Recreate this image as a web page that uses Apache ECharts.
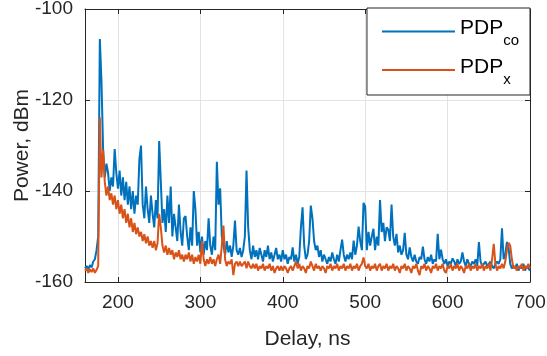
<!DOCTYPE html>
<html>
<head>
<meta charset="utf-8">
<script src="https://cdn.jsdelivr.net/npm/echarts@6/dist/echarts.min.js"></script>
<style>
html,body{margin:0;padding:0;background:#fff;}
#chart{width:547px;height:356px;}
</style>
</head>
<body>
<div id="chart"></div>
<script>
// Sampling grid of the delay axis (ns)
const delayStart = 160;
const delayStep = 2;
// Tick labels
const xTicks = [200, 300, 400, 500, 600, 700];
const yTicks = [-160, -140, -120, -100];
// Series names
const seriesNames = ['co', 'x'];
// PDP co-polar, dBm (one value per 2 ns from 160 ns to 700 ns)
const pdpCo = [
 -157,-156.5,-157.2,-156.3,-156.8,-155.5,-155,-153,-150,-106.6,
 -116,-131,-137,-134,-136,-140,-137,-139,-130.8,-136,
 -139.5,-135.5,-141,-137,-142,-138,-143,-139,-144,-140,
 -145,-141,-143,-133,-130,-143,-146,-139,-144,-147,
 -141,-145,-148,-142,-146,-129,-138,-147,-144,-149,
 -141,-147,-139,-150,-145,-148,-151,-143,-149,-152,
 -146,-145.5,-150,-153,-148,-152,-140,-144,-152,-149,
 -153.5,-150,-154,-151,-153,-146,-152,-154,-150,-153,
 -133.6,-143,-139.4,-150,-152,-154,-151,-153.5,-152,-154.5,
 -152,-146.5,-153,-154,-152.5,-154.5,-153,-150,-135.5,-148,
 -153,-155,-152,-154.5,-153,-155,-152.5,-154,-155.5,-153,
 -154.5,-152,-155,-153.5,-155.5,-154,-152.5,-155,-154,-155.5,
 -153,-155,-154,-156,-154.5,-155,-152.4,-155.5,-154,-156,
 -154.5,-148,-143.6,-152,-155,-154,-151,-143.2,-146,-151,
 -153,-152,-154.5,-153,-155.5,-154,-155,-156,-154.5,-155.5,
 -153.5,-155,-156,-154,-155.5,-153,-150.7,-154,-155.5,-154,
 -155,-153.5,-155,-150.9,-154,-152,-147.8,-151,-153,-142.6,
 -143.4,-153,-149,-152,-150,-148.3,-153,-150,-152,-142,
 -149,-147,-151,-148,-148.5,-151,-143,-150,-152,-149.4,
 -153.5,-152,-154,-153,-149.2,-154,-155,-152.4,-154.5,-155.5,
 -154,-155.5,-156,-154.5,-155,-152.2,-155,-156,-154.5,-155.5,
 -154,-156,-155,-155.5,-149.4,-155,-152.9,-155,-156,-155,
 -156.5,-155.5,-156,-154.8,-155.5,-156.5,-155,-156,-155.5,-153.5,
 -155.5,-156.5,-155,-156,-156.5,-155.5,-156,-155,-156.5,-151.2,
 -155.5,-156.5,-156,-155.5,-156.5,-156,-155.5,-156.5,-157,-156,
 -155.5,-156,-155,-148.2,-155,-154,-151.2,-152.5,-156,-157,
 -156.5,-157,-156,-157.5,-156.5,-157,-156,-157.5,-156.5,-157,
 -157.5
];
// PDP cross-polar, dBm
const pdpX = [
 -157.5,-157,-158,-157.2,-157.8,-157,-158,-157.3,-156.5,-123.8,
 -137,-131,-138,-141,-139,-142,-140.5,-143,-141,-144,
 -142,-145,-143,-146,-144,-147,-145,-148,-146,-149,
 -147,-149.5,-148,-150,-149,-151,-149.5,-151.5,-150,-152,
 -151,-152.5,-151,-153,-151.5,-145,-148,-152,-153.5,-152,
 -154,-152.5,-154,-153,-155,-153.5,-154.5,-153,-155,-154,
 -155.5,-154,-155,-153.5,-155.5,-154,-156,-154.5,-155.5,-154,
 -156,-151,-155,-156.5,-155,-156,-154.5,-156,-155,-156.5,
 -155,-154,-156,-152,-147.6,-155,-156.5,-155.5,-156,-155,
 -158.5,-156,-155.5,-156.5,-155.5,-156.5,-156,-155.5,-157,-155.5,
 -156.5,-157,-156,-157,-156,-157.5,-156.5,-157,-156,-157.5,
 -156.5,-157,-156,-157.5,-156.5,-158,-157,-156.5,-157.5,-156.5,
 -157.5,-156.5,-157,-158,-157,-156.5,-157.5,-156.5,-155.5,-157,
 -156,-157.5,-156.5,-157,-158,-156.5,-157,-155.5,-156.5,-157.5,
 -156,-157,-156.5,-157.5,-156.5,-157,-158,-156.5,-157,-156,
 -157.5,-156.5,-157,-156,-157.5,-156.5,-157,-156,-157.5,-156.5,
 -157,-156,-157.5,-156.5,-157,-156,-157.5,-156.5,-156,-154.6,
 -156.5,-157,-156,-157.5,-156.5,-157,-156,-157.5,-156.5,-156,
 -157.5,-156.5,-157,-156,-157.5,-156.5,-157,-156,-157.5,-156.5,
 -157,-158,-156.5,-157,-156,-157.5,-156.5,-157,-158,-156.5,
 -157,-156,-157.5,-158.5,-156.5,-157,-156,-157.5,-156.5,-157,
 -158,-156.5,-157,-156,-157.5,-156.5,-157,-156,-157.5,-158,
 -156.5,-157,-156,-157.5,-156.5,-157,-156,-157.5,-156.5,-157,
 -158,-156.5,-157,-156,-157.5,-156.5,-157,-156,-157.5,-156.5,
 -157,-156,-157.5,-156.5,-157,-156,-157.5,-155,-151.6,-156,
 -157.5,-156.5,-157,-156,-157,-155.5,-153,-151.4,-152,-155,
 -157,-156.5,-157.5,-156.5,-157,-156,-157.5,-156.5,-157,-156,
 -157
];

const toPairs = arr => arr.map((v, i) => [delayStart + i * delayStep, v]);

const axisColor = '#262626';
const gridColor = '#e3e3e3';
const fontFam = 'Liberation Sans, Arial, sans-serif';

const chart = echarts.init(document.getElementById('chart'), null, {renderer: 'canvas'});
const xMin = delayStart, xMax = delayStart + (pdpCo.length - 1) * delayStep;
const yMin = yTicks[0], yMax = yTicks[yTicks.length - 1];

chart.setOption({
  animation: false,
  backgroundColor: '#fff',
  grid: {left: 85, right: 17, top: 9, bottom: 74, containLabel: false, outerBoundsMode: 'none'},
  xAxis: [{
    type: 'value', min: xMin, max: xMax, minInterval: 100, maxInterval: 100,
    name: 'Delay, ns', nameLocation: 'middle', nameGap: 47,
    nameTextStyle: {color: axisColor, fontSize: 21, fontFamily: fontFam},
    axisLine: {show: true, lineStyle: {color: axisColor, width: 1}},
    axisTick: {show: true, inside: true, length: 5, lineStyle: {color: axisColor}},
    axisLabel: {color: axisColor, fontSize: 19, fontFamily: fontFam, margin: 11, showMinLabel: false,
      formatter: v => xTicks.indexOf(v) >= 0 ? String(v) : ''},
    splitLine: {show: true, lineStyle: {color: gridColor, width: 1}}
  }, {
    type: 'value', position: 'top', min: xMin, max: xMax, minInterval: 100, maxInterval: 100,
    axisLine: {show: true, onZero: false, lineStyle: {color: axisColor, width: 1}},
    axisTick: {show: true, inside: true, length: 5, lineStyle: {color: axisColor}},
    axisLabel: {show: false}, splitLine: {show: false}
  }],
  yAxis: [{
    type: 'value', min: yMin, max: yMax, interval: 20,
    name: 'Power, dBm', nameLocation: 'middle', nameGap: 52, nameMoveOverlap: false,
    nameTextStyle: {color: axisColor, fontSize: 21, fontFamily: fontFam},
    axisLine: {show: true, lineStyle: {color: axisColor, width: 1}},
    axisTick: {show: true, inside: true, length: 5, lineStyle: {color: axisColor}},
    axisLabel: {color: axisColor, fontSize: 19, fontFamily: fontFam, margin: 12},
    splitLine: {show: true, lineStyle: {color: gridColor, width: 1}}
  }, {
    type: 'value', position: 'right', min: yMin, max: yMax, interval: 20,
    axisLine: {show: true, onZero: false, lineStyle: {color: axisColor, width: 1}},
    axisTick: {show: true, inside: true, length: 5, lineStyle: {color: axisColor}},
    axisLabel: {show: false}, splitLine: {show: false}
  }],
  legend: {
    orient: 'vertical', right: 17, top: 8,
    padding: [10, 11, 8, 15], itemGap: 8,
    icon: 'rect', itemWidth: 73, itemHeight: 2,
    borderColor: axisColor, borderWidth: 1, backgroundColor: '#fff', borderRadius: 0,
    data: seriesNames.map(s => 'PDP_' + s),
    formatter: name => '{m|PDP}{s|' + name.split('_')[1] + '}',
    textStyle: {
      color: '#000',
      rich: {
        m: {fontSize: 21, fontFamily: fontFam, color: '#000', padding: [0, 0, 6, 0]},
        s: {fontSize: 15, fontFamily: fontFam, color: '#000', padding: [19, 0, 0, 0]}
      }
    }
  },
  series: [{
    name: 'PDP_co', type: 'line', data: toPairs(pdpCo), showSymbol: false, symbol: 'none',
    lineStyle: {color: '#0072BD', width: 2}, itemStyle: {color: '#0072BD'}, z: 2
  }, {
    name: 'PDP_x', type: 'line', data: toPairs(pdpX), showSymbol: false, symbol: 'none',
    lineStyle: {color: '#D95319', width: 2}, itemStyle: {color: '#D95319'}, z: 3
  }]
});
</script>
</body>
</html>
